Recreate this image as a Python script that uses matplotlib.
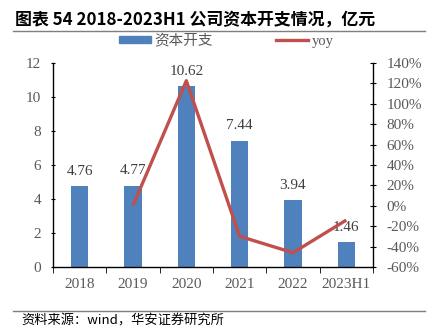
import matplotlib
matplotlib.use("Agg")
import matplotlib.pyplot as plt
from matplotlib.lines import Line2D
from matplotlib.patches import Patch
import numpy as np

plt.rcParams['font.family'] = ['Liberation Serif', 'Noto Sans CJK SC', 'DejaVu Sans']

categories = ["2018", "2019", "2020", "2021", "2022", "2023H1"]
capex = [4.76, 4.77, 10.62, 7.44, 3.94, 1.46]
yoy_cats = ["2019", "2020", "2021", "2022", "2023H1"]
yoy = [0.2, 122.6, -29.9, -46.0, -14.0]

title = "图表 54 2018-2023H1 公司资本开支情况，亿元"
source = "资料来源：wind，华安证券研究所"

bar_color = "#4F81BD"
line_color = "#C0504D"
grey = "#595959"

fig = plt.figure(figsize=(4.34, 3.28), dpi=100)
ax = fig.add_axes([0.1221, 0.186, 0.7373, 0.622])
ax2 = ax.twinx()

x = np.arange(len(categories))
ax.bar(x, capex, width=0.32, color=bar_color, zorder=2)
for xi, v in zip(x, capex):
    ax.text(xi, v + 0.5, f"{v:.2f}", ha='center', va='bottom', fontsize=11,
            color="#404040", family='Liberation Serif')

xi_yoy = [categories.index(c) for c in yoy_cats]
ax2.plot(xi_yoy, yoy, color=line_color, lw=2.4, zorder=3, solid_capstyle='butt')

ax.set_xlim(-0.5, len(categories) - 0.5)
ax.set_ylim(0, 12)
ax.set_yticks(range(0, 13, 2))
ax2.set_ylim(-60, 140)
ax2.set_yticks(range(-60, 141, 20))
ax2.set_yticklabels([f"{t}%" for t in range(-60, 141, 20)])

ax.set_xticks(x)
ax.set_xticklabels(categories)
ax.set_xticks(np.arange(-0.5, len(categories), 1), minor=True)
ax.tick_params(axis='x', which='major', length=0, labelsize=11, labelcolor=grey, pad=8)
ax.tick_params(axis='x', which='minor', length=4, direction='out', color='black')
ax.tick_params(axis='y', length=3, direction='inout', labelsize=11, labelcolor=grey, pad=7)
ax2.tick_params(axis='y', length=4, direction='inout', labelsize=11, labelcolor=grey, pad=8)

for a in (ax, ax2):
    a.spines['top'].set_visible(False)
    for s in ('left', 'right', 'bottom'):
        a.spines[s].set_color('black')
        a.spines[s].set_linewidth(1.0)
ax.spines['right'].set_visible(False)
ax2.spines['left'].set_visible(False)
ax2.spines['bottom'].set_visible(False)

for lab in ax.get_xticklabels() + ax.get_yticklabels() + ax2.get_yticklabels():
    lab.set_family('Liberation Serif')

handles = [Patch(color=bar_color, label="资本开支"),
           Line2D([0], [0], color=line_color, lw=2.4, label="yoy")]
leg = fig.legend(handles=handles, loc='center', bbox_to_anchor=(0.521, 0.876), ncol=2,
                 frameon=False, fontsize=10.5, handlelength=2.2, handleheight=0.45,
                 columnspacing=4.3, handletextpad=0.25)
for t in leg.get_texts():
    t.set_color(grey)
    t.set_family(['Noto Sans CJK SC', 'DejaVu Sans'])
    if t.get_text() == 'yoy':
        t.set_family('Liberation Serif')

fig.text(0.035, 0.94, title, fontsize=12.2, fontweight='bold', color='black',
         family=['Noto Sans CJK SC', 'DejaVu Sans'], va='center', ha='left')
fig.add_artist(Line2D([0.03, 0.98], [0.905, 0.905], color='#7f7f7f', lw=1.0))
fig.add_artist(Line2D([0.03, 0.98], [0.052, 0.052], color='#7f7f7f', lw=1.0))
fig.text(0.05, 0.02, source, fontsize=9.5, color='black',
         family=['Noto Sans CJK SC', 'DejaVu Sans'], va='center', ha='left')

fig.savefig("out.png", dpi=100)
